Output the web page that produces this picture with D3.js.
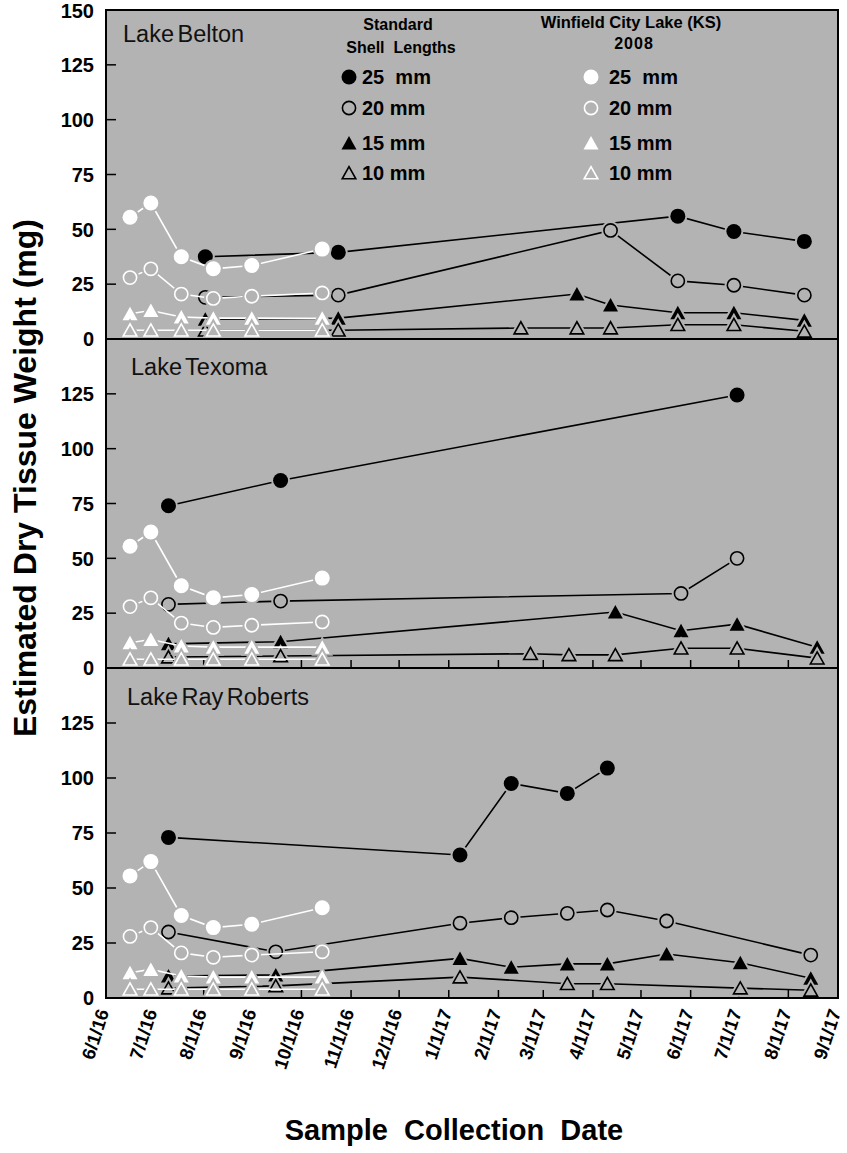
<!DOCTYPE html>
<html><head><meta charset="utf-8">
<script src="https://cdn.jsdelivr.net/npm/d3@7"></script>
<style>body{margin:0;background:#fff}text{font-family:"Liberation Sans",Arial,sans-serif}</style>
</head><body><svg id="c" width="847" height="1153"></svg>
<script>
// ---------- data ----------
const lakes = ["Lake Belton", "Lake Texoma", "Lake Ray Roberts"];
const sizeLabels = ["25  mm", "20 mm", "15 mm", "10 mm"];
const monthTicks = ["2016-06-01","2016-07-01","2016-08-01","2016-09-01","2016-10-01","2016-11-01","2016-12-01",
  "2017-01-01","2017-02-01","2017-03-01","2017-04-01","2017-05-01","2017-06-01","2017-07-01","2017-08-01","2017-09-01"];
const yTickValues = [25, 50, 75, 100, 125];

// Winfield City Lake (KS) 2008 reference (white symbols), same in every panel
const winfieldDates = ["2016-06-16","2016-06-29","2016-07-18","2016-08-07","2016-08-31","2016-10-14"];
const winfield25 = [55.5, 62, 37.5, 32, 33.5, 41];
const winfield20 = [28, 32, 20.5, 18.5, 19.5, 21];
const winfield15 = [11.5, 13, 10, 9.5, 9.5, 9.5];
const winfield10 = [4, 4, 4, 4, 4, 4];

// Lake Belton
const beltonDates = ["2016-08-02","2016-10-24","2017-02-15","2017-03-22","2017-04-12","2017-05-24","2017-06-28","2017-08-11"];
const belton25 = [37.5, 39.5, null, null, null, 56, 49, 44.5];
const belton20 = [19, 20, null, null, 49.5, 26.5, 24.5, 20];
const belton15 = [9, 9.5, null, 20.5, 15.5, 12, 12, 8.5];
const belton10 = [4, 4, 5, 5, 5, 6.5, 6.5, 3.5];

// Lake Texoma
const texomaDates = ["2016-07-10","2016-09-18","2017-02-21","2017-03-17","2017-04-15","2017-05-26","2017-06-30","2017-08-19"];
const texoma25 = [74, 85.5, null, null, null, null, 124.5, null];
const texoma20 = [29, 30.5, null, null, null, 34, 50, null];
const texoma15 = [11, 12, null, null, 25.5, 17, 20, 9.5];
const texoma10 = [5, 5.5, 6.5, 6, 6, 9, 9, 4.5];

// Lake Ray Roberts
const rayDates = ["2016-07-10","2016-09-15","2017-01-08","2017-02-09","2017-03-16","2017-04-10","2017-05-17","2017-07-02","2017-08-15"];
const ray25 = [73, null, 65, 97.5, 93, 104.5, null, null, null];
const ray20 = [30, 21, 34, 36.5, 38.5, 40, 35, null, 19.5];
const ray15 = [10, 10.5, 18, 14, 15.5, 15.5, 20, 16, 9];
const ray10 = [4.5, 5.5, 9.5, null, 6.5, 6.5, null, 4.5, 3.5];

// ---------- drawing ----------
const parse = d3.timeParse("%Y-%m-%d");
const BG = "#b3b3b3";
const svg = d3.select("#c");
svg.append("rect").attr("width", 847).attr("height", 1153).attr("fill", "#fff");

const L = 106, R = 838;
const panelTops = [10, 339, 668];
const panelHeights = [329, 329, 330];
const x = d3.scaleTime().domain([parse(monthTicks[0]), parse(monthTicks[monthTicks.length - 1])]).range([L, R]);

const markerPath = {
  circle: "M0,-7.5A7.5,7.5 0 1,1 0,7.5A7.5,7.5 0 1,1 0,-7.5Z",
  ocircle: "M0,-6.6A6.6,6.6 0 1,1 0,6.6A6.6,6.6 0 1,1 0,-6.6Z",
  tri: "M0,-7L7.5,6.5L-7.5,6.5Z",
  otri: "M0,-6.3L6.8,5.8L-6.8,5.8Z"
};
const kinds = ["circle", "ocircle", "tri", "otri"];

function drawMarker(g, kind, color, cx, cy, halo) {
  const open = kind === "ocircle" || kind === "otri";
  if (halo) {
    g.append("path").attr("d", markerPath[kind]).attr("transform", `translate(${cx},${cy})`)
      .attr("fill", BG).attr("stroke", BG).attr("stroke-width", open ? 5.5 : 4);
  }
  g.append("path").attr("d", markerPath[kind]).attr("transform", `translate(${cx},${cy})`)
    .attr("fill", open ? BG : color).attr("stroke", open ? color : "none").attr("stroke-width", 1.6);
}

const lakeData = [
  {dates: beltonDates, series: [belton25, belton20, belton15, belton10]},
  {dates: texomaDates, series: [texoma25, texoma20, texoma15, texoma10]},
  {dates: rayDates, series: [ray25, ray20, ray15, ray10]}
];
const winfield = [winfield25, winfield20, winfield15, winfield10];

const labelPos = [[123, 42], [131, 375], [127, 705]];

panelTops.forEach((top, pi) => {
  const PH = panelHeights[pi];
  const bottom = top + PH;
  const y = d3.scaleLinear().domain([0, 150]).range([bottom, top]);
  const g = svg.append("g");
  g.append("rect").attr("x", L).attr("y", top).attr("width", R - L).attr("height", PH)
    .attr("fill", BG);

  // y ticks (inward) and labels
  g.selectAll(".yt").data(yTickValues).enter().append("line")
    .attr("x1", L).attr("x2", L + 10).attr("y1", d => y(d)).attr("y2", d => y(d))
    .attr("stroke", "#000").attr("stroke-width", 1.5);
  const lbls = pi === 0 ? [0, ...yTickValues, 150] : [0, ...yTickValues];
  g.selectAll(".yl").data(lbls).enter().append("text")
    .attr("x", 94).attr("y", d => y(d) + (d === 150 ? 1 : 0)).attr("dy", "0.36em")
    .attr("text-anchor", "end").attr("font-size", 20).attr("font-weight", "bold").text(d => d);

  // x ticks (inward) on lower panels
  if (pi > 0) {
    g.selectAll(".xt").data(monthTicks.slice(1, -1)).enter().append("line")
      .attr("x1", d => x(parse(d))).attr("x2", d => x(parse(d)))
      .attr("y1", bottom).attr("y2", bottom - 8).attr("stroke", "#000").attr("stroke-width", 1.5);
  }

  const line = d3.line().x(d => x(d.date)).y(d => y(d.v));
  const plot = g.append("g");
  // lake series (black)
  const ld = lakeData[pi];
  ld.series.forEach((vals, si) => {
    const pts = vals.map((v, i) => ({date: parse(ld.dates[i]), v})).filter(d => d.v !== null);
    plot.append("path").datum(pts).attr("d", line).attr("fill", "none")
      .attr("stroke", "#000").attr("stroke-width", 1.6);
    pts.forEach(d => drawMarker(plot, kinds[si], "#000", x(d.date), y(d.v), true));
  });
  // Winfield series (white)
  winfield.forEach((vals, si) => {
    const pts = vals.map((v, i) => ({date: parse(winfieldDates[i]), v})).filter(d => d.v !== null);
    plot.append("path").datum(pts).attr("d", line).attr("fill", "none")
      .attr("stroke", "#fff").attr("stroke-width", 1.6);
    pts.forEach(d => drawMarker(plot, kinds[si], "#fff", x(d.date), y(d.v), true));
  });

  g.append("rect").attr("x", L).attr("y", top).attr("width", R - L).attr("height", PH)
    .attr("fill", "none").attr("stroke", "#000").attr("stroke-width", 2);

  g.append("text").attr("x", labelPos[pi][0]).attr("y", labelPos[pi][1])
    .attr("font-size", 23.5).attr("word-spacing", -3).attr("fill", "#111").text(lakes[pi]);
});

// legend
const leg = svg.append("g").attr("font-weight", "bold");
leg.append("text").attr("x", 398).attr("y", 30).attr("text-anchor", "middle").attr("font-size", 16).text("Standard");
leg.append("text").attr("x", 401).attr("y", 53).attr("text-anchor", "middle").attr("font-size", 16)
  .attr("xml:space", "preserve").text("Shell  Lengths");
leg.append("text").attr("x", 631).attr("y", 28).attr("text-anchor", "middle").attr("font-size", 16.5).text("Winfield City Lake (KS)");
leg.append("text").attr("x", 634).attr("y", 49).attr("text-anchor", "middle").attr("font-size", 16).attr("letter-spacing", 1).text("2008");
const rowY = [77, 108, 143, 173];
sizeLabels.forEach((s, i) => {
  drawMarker(leg, kinds[i], "#000", 349, rowY[i], false);
  drawMarker(leg, kinds[i], "#fff", 591, rowY[i], false);
  leg.append("text").attr("x", 362).attr("y", rowY[i]).attr("dy", "0.36em").attr("font-size", 20)
    .attr("xml:space", "preserve").text(s);
  leg.append("text").attr("x", 609).attr("y", rowY[i]).attr("dy", "0.36em").attr("font-size", 20)
    .attr("xml:space", "preserve").text(s.replace("  ", " ").replace("25 mm", "25  mm"));
});

// x tick labels
const fmt = d3.timeFormat("%-m/%-d/%y");
svg.append("g").selectAll("text").data(monthTicks).enter().append("text")
  .attr("transform", d => `translate(${x(parse(d)) - 2},${1010}) rotate(-72)`)
  .attr("text-anchor", "end").attr("dy", "0.3em").attr("font-size", 18.5).attr("font-weight", "bold")
  .text(d => fmt(parse(d)));

// axis titles
svg.append("text").attr("transform", "translate(36,478) rotate(-90)").attr("text-anchor", "middle")
  .attr("font-size", 32).attr("font-weight", "bold").text("Estimated Dry Tissue Weight (mg)");
svg.append("text").attr("x", 454).attr("y", 1140).attr("text-anchor", "middle")
  .attr("font-size", 29).attr("font-weight", "bold").attr("xml:space", "preserve").text("Sample  Collection  Date");
</script></body></html>
